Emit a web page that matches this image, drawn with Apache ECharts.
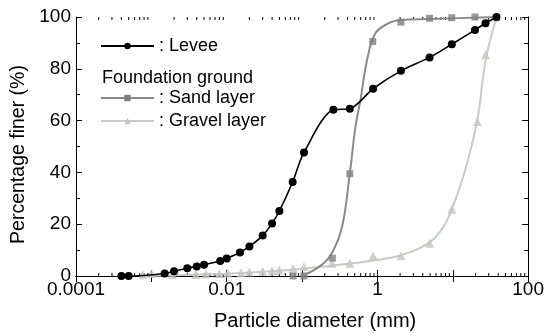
<!DOCTYPE html>
<html>
<head>
<meta charset="utf-8">
<script src="https://cdn.jsdelivr.net/npm/echarts@6/dist/echarts.min.js"></script>
<style>html,body{margin:0;padding:0;background:#fff}#c{width:547px;height:336px}</style>
</head>
<body>
<div id="c"></div>
<script>
// ---- data ----
const leveeD = [0.0004,0.0005,0.0015,0.002,0.003,0.004,0.005,0.0082,0.01,0.015,0.02,0.03,0.04,0.05,0.075,0.106,0.26,0.43,0.875,2.05,4.92,9.7,19.7,27.2,38];
const leveeP = [0,0,1,1.8,3,3.7,4.3,5.8,6.8,9.1,11.4,15.6,20.3,25.1,36.3,47.7,64.2,64.6,72.3,79.2,84.4,89.5,95,97.6,100];

const sandD = [0.076,0.106,0.252,0.43,0.867,2.05,4.92,9.7,19.7];
const sandP = [0,0,6.9,39.5,90.5,98,99.5,99.7,100];
const sandFitD = [0.1,0.177,0.251,0.341,0.43,0.512,0.596,0.73,0.94,1.41,2.05,4.76,38];
const sandFitP = [0,4,9.1,19.3,39.6,57.8,68,83.5,93.7,97.6,98.8,99.2,100];

const gravelD = [0.00077,0.001,0.0019,0.0039,0.0053,0.008,0.0103,0.0155,0.02,0.03,0.04,0.05,0.076,0.106,0.25,0.43,0.875,2.05,4.92,9.7,21.1,27.2,38];
const gravelP = [0.5,1,0.5,0.6,0.8,1,1.2,1.3,1.5,1.8,2,2.2,3,3.6,4.9,4.9,7.8,7.8,12.6,25.8,59.7,85.4,100];
const gravelFitD = [0.0007,0.008,0.05,0.25,0.875,2.05,4.92,7.5,9.7,14.3,21.1,27.2,38];
const gravelFitP = [0,0.8,2,4,6,8,13,19,25.8,40,60,83,100];

const xTickLabels = {'-4':'0.0001','-2':'0.01','0':'1','2':'100'};
const yTickLabels = ['0','20','40','60','80','100'];
const xMin = 0.0001, xMax = 100;

// minor ticks of the log axis (2..9 in each decade)
const minorTicks = [];
for (let e = -4; e < 2; e++) for (let m = 2; m <= 9; m++) minorTicks.push([m * Math.pow(10, e), 0]);

const zip = (a, b) => a.map((v, i) => [v, b[i]]);
const FONT = 'Liberation Sans, Arial, sans-serif';

const chart = echarts.init(document.getElementById('c'), null, {renderer: 'canvas'});
const xBase = {
  type: 'log', logBase: 10, min: xMin, max: xMax,
  axisLine: {show: true, lineStyle: {color: '#000', width: 1}},
  axisTick: {show: true, inside: true, length: 6, lineStyle: {color: '#000'}},
  splitLine: {show: false}, minorTick: {show: false}
};
const yBase = {
  type: 'value', min: 0, max: 100, interval: 20,
  axisLine: {show: true, lineStyle: {color: '#000', width: 1}},
  axisTick: {show: true, inside: true, length: 6, lineStyle: {color: '#000'}},
  minorTick: {show: true, splitNumber: 2, length: 4, lineStyle: {color: '#000'}},
  splitLine: {show: false}, minorSplitLine: {show: false}
};
chart.setOption({
  animation: false,
  textStyle: {fontFamily: FONT},
  grid: {left: 76, right: 17, top: 17, bottom: 59, containLabel: false},
  xAxis: [
    Object.assign({}, xBase, {
      position: 'bottom',
      axisLabel: {show: true, color: '#000', fontSize: 19, fontFamily: FONT, margin: 4,
        formatter: v => { const e = Math.round(Math.log10(v)); return xTickLabels[String(e)] || ''; }},
      name: 'Particle diameter (mm)', nameLocation: 'middle', nameGap: 35,
      nameTextStyle: {color: '#000', fontSize: 20, fontFamily: FONT, padding: [0, 0, 0, 26]}
    }),
    Object.assign({}, xBase, {position: 'top', axisLabel: {show: false}})
  ],
  yAxis: [
    Object.assign({}, yBase, {
      position: 'left',
      axisLabel: {show: true, color: '#000', fontSize: 19, fontFamily: FONT, margin: 5,
        formatter: v => yTickLabels[Math.round(v / 20)] || ''},
      name: 'Percentage finer (%)', nameLocation: 'middle', nameGap: 37,
      nameTextStyle: {color: '#000', fontSize: 19.5, fontFamily: FONT, padding: [0, 16, 0, 0]}
    }),
    Object.assign({}, yBase, {position: 'right', axisLabel: {show: false}})
  ],
  legend: [
    {
      data: ['Levee'], left: 95, top: 32, orient: 'vertical',
      itemWidth: 53, itemHeight: 8, itemGap: 5, selectedMode: false,
      formatter: ': {name}', textStyle: {fontSize: 18, color: '#000', fontFamily: FONT}
    },
    {
      data: ['Sand layer', 'Gravel layer'], left: 95, top: 84, orient: 'vertical',
      itemWidth: 53, itemHeight: 8, itemGap: 5, selectedMode: false,
      formatter: ': {name}', textStyle: {fontSize: 18, color: '#000', fontFamily: FONT}
    }
  ],
  graphic: [{
    type: 'text', left: 102, top: 69,
    style: {text: 'Foundation ground', fontSize: 18, fill: '#000', fontFamily: FONT}
  }],
  series: [
    {
      type: 'custom', silent: true, clip: false, z: 1,
      data: minorTicks, encode: {x: 0, y: 1},
      renderItem: (params, api) => {
        const v = api.value(0);
        const b = api.coord([v, 0]);
        const t = api.coord([v, 100]);
        const st = {stroke: '#000', lineWidth: 1};
        return {type: 'group', children: [
          {type: 'line', shape: {x1: b[0], y1: b[1], x2: b[0], y2: b[1] - 3}, style: st},
          {type: 'line', shape: {x1: t[0], y1: t[1], x2: t[0], y2: t[1] + 3}, style: st}
        ]};
      }
    },
    {
      name: 'Gravel layer', type: 'line', data: zip(gravelFitD, gravelFitP), smooth: 0.4,
      showSymbol: false, symbol: 'triangle', clip: false, z: 2,
      itemStyle: {color: '#c2c6c2'}, lineStyle: {color: '#c8ccc8', width: 2}
    },
    {
      type: 'scatter', data: zip(gravelD, gravelP), symbol: 'triangle', symbolSize: 9,
      clip: false, z: 3, itemStyle: {color: '#c2c6c2'}
    },
    {
      name: 'Sand layer', type: 'line', data: zip(sandFitD, sandFitP), smooth: 0.4,
      showSymbol: false, symbol: 'rect', clip: false, z: 4,
      itemStyle: {color: '#7f7f7f'}, lineStyle: {color: '#8a8a8a', width: 2}
    },
    {
      type: 'scatter', data: zip(sandD, sandP), symbol: 'rect', symbolSize: 7,
      clip: false, z: 5, itemStyle: {color: '#7f7f7f'}
    },
    {
      name: 'Levee', type: 'line', data: zip(leveeD, leveeP), smooth: 0.3,
      symbol: 'circle', symbolSize: 8, showSymbol: true, clip: false, z: 6,
      itemStyle: {color: '#000'}, lineStyle: {color: '#000', width: 1.6}
    }
  ]
});
</script>
</body>
</html>
